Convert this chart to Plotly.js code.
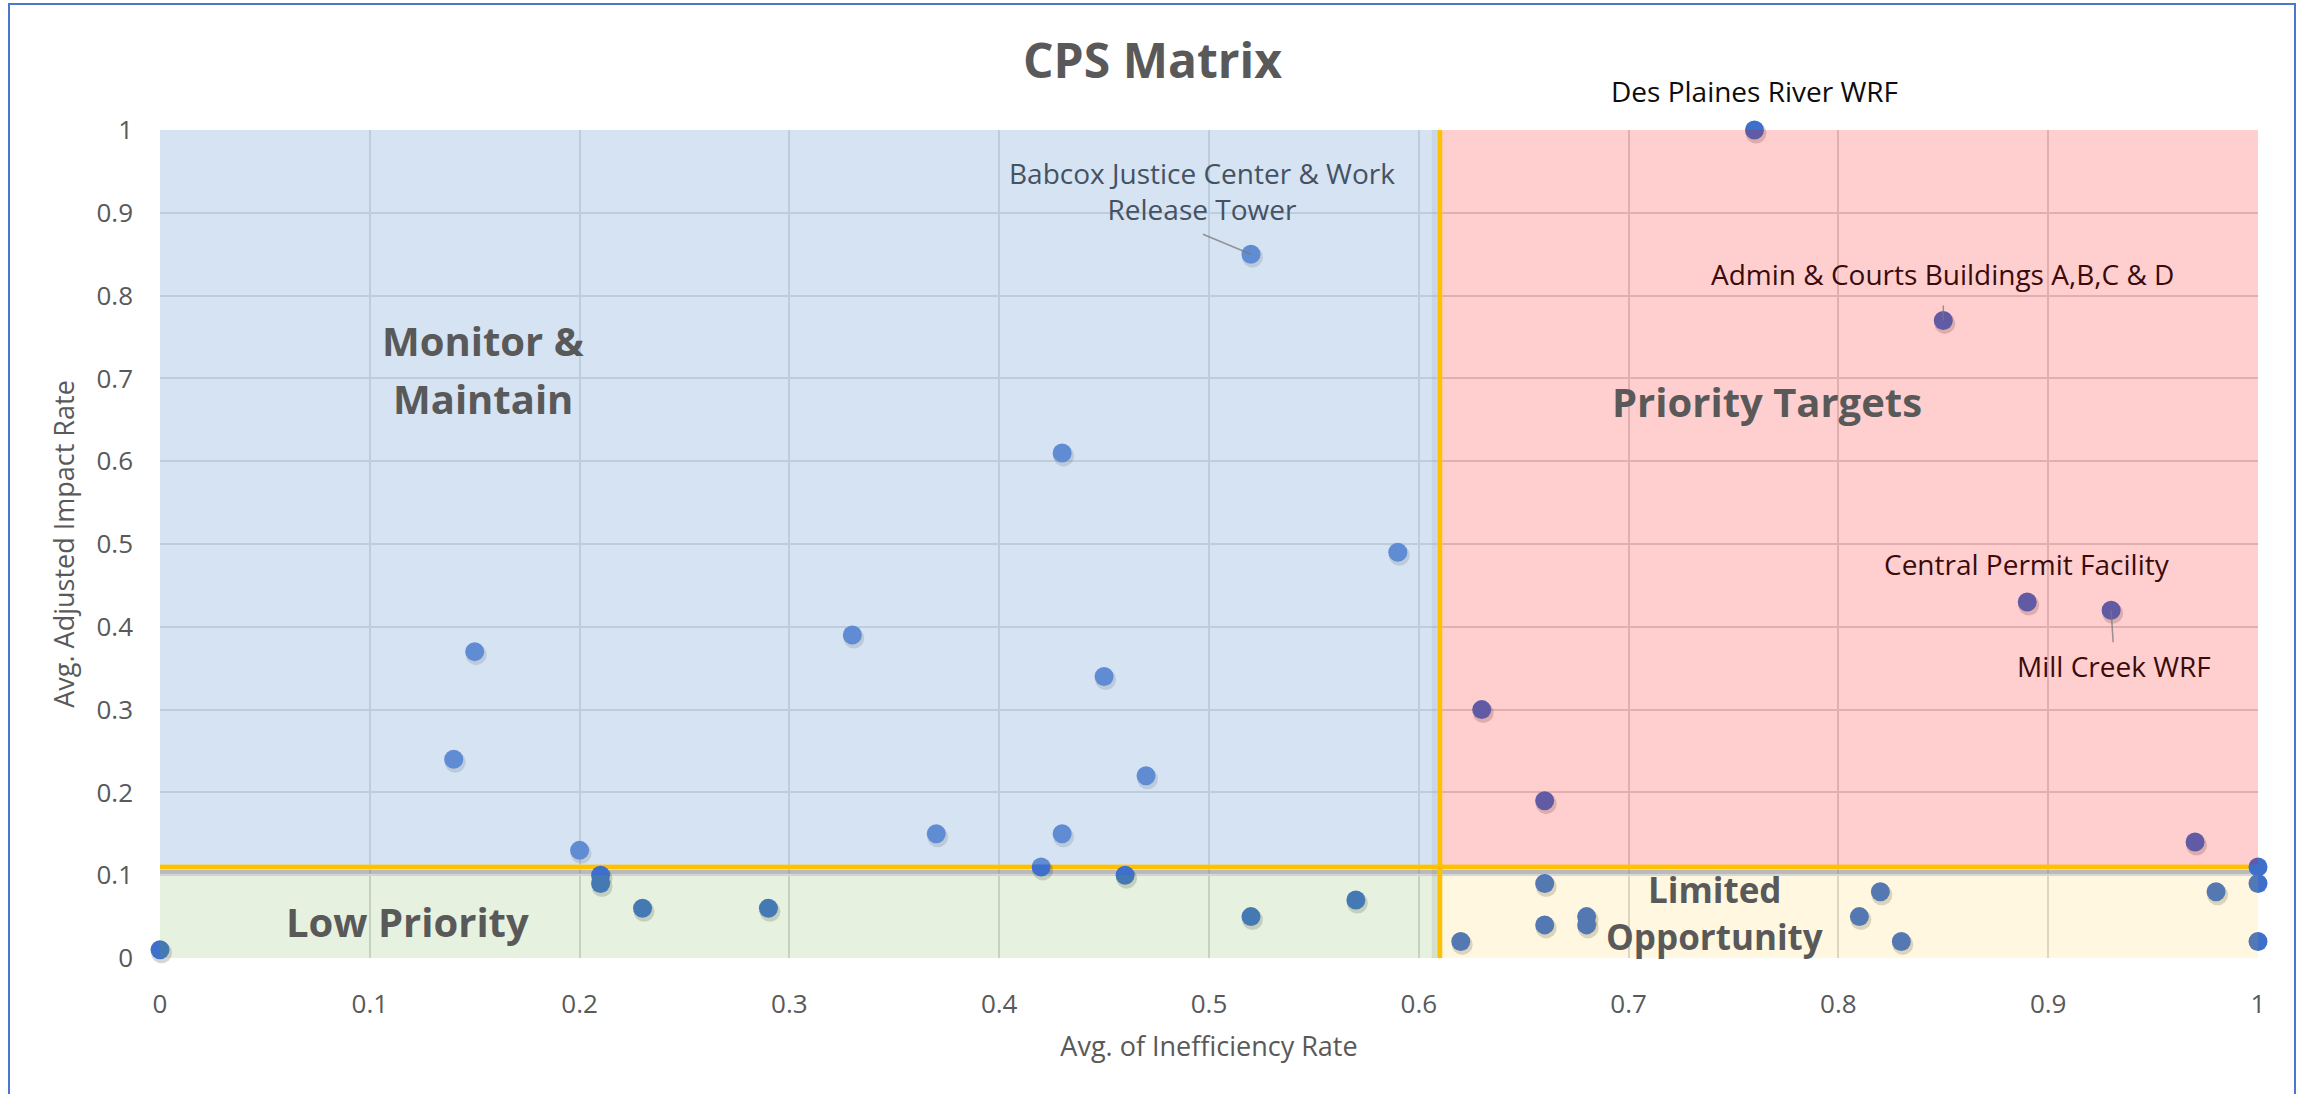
<!DOCTYPE html>
<html>
<head>
<meta charset="utf-8">
<script src="https://cdn.plot.ly/plotly-3.0.1.min.js"></script>
<style>
html,body{margin:0;padding:0;background:#ffffff;}
#chart{width:2305px;height:1094px;}
</style>
</head>
<body>
<div id="chart"></div>
<script>
// ---------------- DATA ----------------
const inefficiency = [
  0.52,0.43,0.59,0.15,0.33,0.45,0.14,0.47,0.37,0.43,0.20,0.42,
  0.21,0.21,0.23,0.29,0.46,0.52,0.57,0.00,
  0.62,0.66,0.66,0.68,0.68,0.82,0.81,0.83,0.98,1.00,1.00,1.00,
  0.76,0.85,0.89,0.93,0.63,0.66,0.97
];
const impact = [
  0.85,0.61,0.49,0.37,0.39,0.34,0.24,0.22,0.15,0.15,0.13,0.11,
  0.10,0.09,0.06,0.06,0.10,0.05,0.07,0.01,
  0.02,0.09,0.04,0.05,0.04,0.08,0.05,0.02,0.08,0.09,0.02,0.11,
  1.00,0.77,0.43,0.42,0.30,0.19,0.14
];
const pointLabels = [
  "Babcox Justice Center & Work<br>Release Tower","","","","","","","","","","","",
  "","","","","","","","",
  "","","","","","","","","","","","",
  "Des Plaines River WRF","Admin & Courts Buildings A,B,C & D","Central Permit Facility","Mill Creek WRF","","",""
];
const xThreshold = 0.61;
const yThreshold = 0.11;
const lowerBandTop = 0.10;
const quadrantNames = ["Monitor &<br>Maintain","Priority Targets","Low Priority","Limited<br>Opportunity"];
const chartTitle = "CPS Matrix";
const xTitle = "Avg. of Inefficiency Rate";
const yTitle = "Avg. Adjusted Impact Rate";

// ---------------- STYLE / LAYOUT ----------------
const W = 2305, H = 1094;
const M = {l:160, r:47, t:130, b:136};
const PX = 1/(W - M.l - M.r);
const PY = 1/(H - M.t - M.b);
const GREY = '#595959';
const FONT = 'Open Sans';
const markerColor = '#3D6FCB';
const overlay = {
  blue:   'rgba(150,185,225,0.4)',
  pink:   'rgba(255,0,0,0.19)',
  green:  'rgba(112,173,71,0.17)',
  yellow: 'rgba(255,192,0,0.12)'
};
const lineW = 5;
const half = lineW/2;

// label offsets (pixels) and leader lines
const labelStyle = {
  "Babcox Justice Center & Work<br>Release Tower": {dx:-49, dy:63, leader:[-48,20]},
  "Des Plaines River WRF": {dx:0, dy:39},
  "Admin & Courts Buildings A,B,C & D": {dx:-1, dy:46, leader:[0,15]},
  "Central Permit Facility": {dx:0, dy:38},
  "Mill Creek WRF": {dx:3, dy:-56, leader:[2,-32]}
};
const quadrantStyle = [
  {x:0.154, y:0.711, size:40, gap:58},
  {x:0.766, y:0.672, size:40, gap:0},
  {x:0.118, y:0.044, size:40, gap:0},
  {x:0.741, y:0.054, size:35, gap:47}
];

// quadrant overlay rectangles
const rects = [
  {x0:0, x1:xThreshold - half*PX, y0:yThreshold + half*PY, y1:1, c:overlay.blue},
  {x0:xThreshold + half*PX, x1:1, y0:yThreshold + half*PY, y1:1, c:overlay.pink},
  {x0:0, x1:xThreshold - half*PX, y0:0, y1:lowerBandTop, c:overlay.green},
  {x0:xThreshold + half*PX, x1:1, y0:0, y1:lowerBandTop, c:overlay.yellow}
];

function parseRGBA(s){
  const m = s.match(/[\d.]+/g).map(Number);
  return {r:m[0], g:m[1], b:m[2], a:m.length>3?m[3]:1};
}
function tintText(xv, yv, base){
  for(const r of rects){
    if(xv>=r.x0 && xv<=r.x1 && yv>=r.y0 && yv<=r.y1){
      const o = parseRGBA(r.c);
      const f = (c, b) => Math.round(o.a*c + (1-o.a)*b);
      return 'rgb(' + f(o.r, base[0]) + ',' + f(o.g, base[1]) + ',' + f(o.b, base[2]) + ')';
    }
  }
  return 'rgb(' + base.join(',') + ')';
}

// marker shadow offset (px)
const shDx = 1.5, shDy = 3;

const traces = [
  {
    type:'scatter', mode:'markers', x:inefficiency, y:impact,
    xaxis:'x2', yaxis:'y2', cliponaxis:false, hoverinfo:'skip', showlegend:false,
    marker:{size:21, color:'rgba(0,0,0,0.16)', line:{width:0}}
  },
  {
    type:'scatter', mode:'markers', x:inefficiency, y:impact,
    xaxis:'x3', yaxis:'y3', cliponaxis:false, showlegend:false,
    marker:{size:19, color:markerColor, line:{width:0}}
  }
];

const shapes = [];
// threshold line shadows
shapes.push({type:'line', xref:'x', yref:'y', layer:'between', x0:0, x1:1,
  y0:yThreshold - 5*PY, y1:yThreshold - 5*PY, line:{color:'rgba(140,140,140,0.6)', width:4}});
shapes.push({type:'line', xref:'x', yref:'y', layer:'between', x0:xThreshold - 5.5*PX, x1:xThreshold - 5.5*PX,
  y0:0, y1:1, line:{color:'rgba(140,140,140,0.18)', width:5}});
// threshold lines
shapes.push({type:'line', xref:'x', yref:'y', layer:'between', x0:0, x1:1,
  y0:yThreshold, y1:yThreshold, line:{color:'#FFC000', width:lineW}});
shapes.push({type:'line', xref:'x', yref:'y', layer:'between', x0:xThreshold, x1:xThreshold,
  y0:0, y1:1, line:{color:'#FFC000', width:lineW}});
// overlays
rects.forEach(r => shapes.push({type:'rect', xref:'x', yref:'y', layer:'above',
  x0:r.x0, x1:r.x1, y0:r.y0, y1:r.y1, fillcolor:r.c, line:{width:0}}));

const annotations = [];
pointLabels.forEach((name, i) => {
  if(!name) return;
  const st = labelStyle[name];
  const xv = inefficiency[i] + st.dx*PX, yv = impact[i] + st.dy*PY;
  annotations.push({
    xref:'x', yref:'y', x:inefficiency[i], y:impact[i], xshift:st.dx, yshift:st.dy,
    text:name, showarrow:false, align:'center', xanchor:'center', yanchor:'middle',
    font:{family:FONT, size:28, color:tintText(xv, yv, [13,13,13])}
  });
  if(st.leader){
    shapes.push({type:'line', xref:'x', yref:'y', layer:'above',
      xsizemode:'pixel', ysizemode:'pixel', xanchor:inefficiency[i], yanchor:impact[i],
      x0:0, y0:0, x1:st.leader[0], y1:st.leader[1],
      line:{color:'rgba(120,120,120,0.75)', width:1.5}});
  }
});
quadrantNames.forEach((q, i) => {
  const st = quadrantStyle[i];
  const lines = q.split('<br>');
  lines.forEach((ln, k) => {
    const shift = ((lines.length - 1)/2 - k) * st.gap;
    annotations.push({xref:'x', yref:'y', x:st.x, y:st.y, yshift:shift, text:ln, showarrow:false,
      align:'center', xanchor:'center', yanchor:'middle',
      font:{family:FONT, size:st.size, weight:700, color:GREY}});
  });
});
// outer chart border
shapes.push({type:'rect', xref:'paper', yref:'paper', layer:'above',
  x0:(9 - M.l)*PX, x1:(2295 - M.l)*PX, y0:(H - M.b - 1200)*PY, y1:(H - M.b - 4)*PY,
  fillcolor:'rgba(0,0,0,0)', line:{color:'#4A78CC', width:2}});

const axisCommon = {
  range:[0,1], dtick:0.1, tick0:0, showgrid:true, gridcolor:'#D9D9D9', gridwidth:2,
  zeroline:false, showline:false, ticks:'', fixedrange:true,
  tickfont:{family:FONT, size:26, color:GREY}
};

const layout = {
  width:W, height:H, margin:M, paper_bgcolor:'#ffffff', plot_bgcolor:'#ffffff',
  showlegend:false,
  title:{text:chartTitle, x:0.5, xref:'container', xanchor:'center',
    y:1 - 61/H, yref:'container', yanchor:'middle',
    font:{family:FONT, size:48, weight:700, color:GREY}},
  xaxis:Object.assign({}, axisCommon, {ticklabelstandoff:28,
    title:{text:xTitle, standoff:17, font:{family:FONT, size:27, color:GREY}}}),
  yaxis:Object.assign({}, axisCommon, {ticklabelstandoff:26,
    title:{text:yTitle, standoff:13, font:{family:FONT, size:27, color:GREY}}}),
  xaxis2:{overlaying:'x', range:[-shDx*PX, 1 - shDx*PX], visible:false, fixedrange:true},
  yaxis2:{overlaying:'y', range:[shDy*PY, 1 + shDy*PY], visible:false, fixedrange:true},
  xaxis3:{overlaying:'x', range:[0,1], visible:false, fixedrange:true},
  yaxis3:{overlaying:'y', range:[0,1], visible:false, fixedrange:true},
  shapes:shapes,
  annotations:annotations,
  hovermode:'closest'
};

Plotly.newPlot('chart', traces, layout, {displayModeBar:false, staticPlot:true});
</script>
</body>
</html>
